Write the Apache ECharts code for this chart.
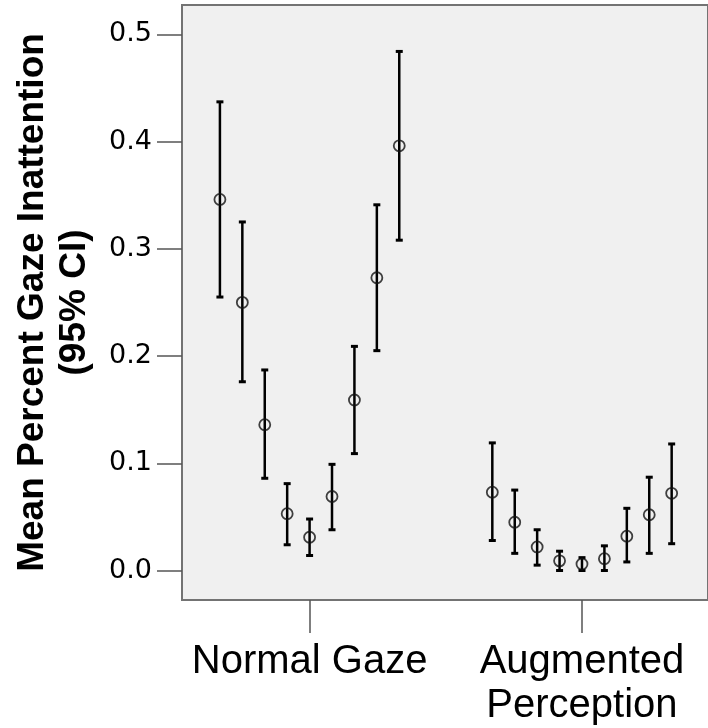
<!DOCTYPE html>
<html>
<head>
<meta charset="utf-8">
<script src="https://cdn.jsdelivr.net/npm/echarts@6/dist/echarts.min.js"></script>
<style>
html,body{margin:0;padding:0;background:#fff;}
#chart{width:708px;height:728px;}
</style>
</head>
<body>
<div id="chart"></div>
<script>
// ---- data ----
const categories = ['Normal Gaze', 'Augmented Perception'];
const tickLabels = ['Normal Gaze', 'Augmented\nPerception'];
const yTicks = [0.0, 0.1, 0.2, 0.3, 0.4, 0.5];

// nine sub-groups (left to right) within each category
const normalMean  = [0.346, 0.250, 0.136, 0.053, 0.031, 0.069, 0.159, 0.273, 0.396];
const normalLower = [0.255, 0.176, 0.086, 0.024, 0.014, 0.038, 0.109, 0.205, 0.308];
const normalUpper = [0.437, 0.325, 0.187, 0.081, 0.048, 0.099, 0.209, 0.341, 0.484];

const augMean  = [0.073, 0.045, 0.022, 0.009, 0.006, 0.011, 0.032, 0.052, 0.072];
const augLower = [0.028, 0.016, 0.005, 0.000, 0.000, 0.000, 0.008, 0.016, 0.025];
const augUpper = [0.119, 0.075, 0.038, 0.018, 0.012, 0.023, 0.058, 0.087, 0.118];

// ---- build series data (dodged positions around each category) ----
const dodge = 0.0823;
const groups = [
  {mean: normalMean, lower: normalLower, upper: normalUpper},
  {mean: augMean, lower: augLower, upper: augUpper}
];
const pointData = [];
const barData = [];
groups.forEach((g, gi) => {
  g.mean.forEach((m, i) => {
    const x = (gi + 1) + (i - 4) * dodge;
    pointData.push([x, m]);
    barData.push([x, g.lower[i], g.upper[i]]);
  });
});

const FONT = '"Liberation Sans", Arial, Helvetica, sans-serif';
const chart = echarts.init(document.getElementById('chart'), null, {renderer: 'canvas'});

chart.setOption({
  animation: false,
  backgroundColor: '#ffffff',
  grid: {
    left: 182, top: 5, right: 0, bottom: 127.5,
    show: true,
    backgroundColor: '#f0f0f0',
    borderColor: '#737373',
    borderWidth: 2
  },
  xAxis: {
    type: 'value',
    min: 0.5316,
    max: 2.4626,
    axisLine: {show: false, onZero: false},
    splitLine: {show: false},
    axisTick: {
      show: true,
      customValues: [1, 2],
      length: 33,
      lineStyle: {color: '#555', width: 1.5}
    },
    axisLabel: {
      customValues: [1, 2],
      formatter: v => tickLabels[Math.round(v) - 1],
      fontSize: 40,
      lineHeight: 44,
      color: '#000',
      fontFamily: FONT,
      margin: 40,
      align: 'center'
    }
  },
  yAxis: {
    type: 'value',
    min: -0.0275,
    max: 0.5273,
    axisLine: {show: false, onZero: false},
    splitLine: {show: false},
    axisTick: {
      show: true,
      customValues: yTicks,
      length: 25,
      lineStyle: {color: '#555', width: 1.5}
    },
    axisLabel: {
      customValues: yTicks,
      formatter: v => v.toFixed(1),
      fontSize: 27,
      color: '#000',
      fontFamily: '"DejaVu Sans", "Liberation Sans", Arial, sans-serif',
      margin: 30
    },
    name: 'Mean Percent Gaze Inattention\n(95% CI)',
    nameLocation: 'middle',
    nameGap: 86,
    nameTextStyle: {
      fontSize: 37,
      fontWeight: 'bold',
      lineHeight: 42,
      color: '#000',
      fontFamily: FONT,
      align: 'center'
    }
  },
  series: [
    {
      type: 'custom',
      data: barData,
      encode: {x: 0, y: [1, 2]},
      renderItem: function (params, api) {
        const x = api.value(0);
        const lo = api.coord([x, api.value(1)]);
        const hi = api.coord([x, api.value(2)]);
        const cw = 3.5;
        const st = {stroke: '#000', lineWidth: 2.5};
        return {
          type: 'group',
          children: [
            {type: 'line', shape: {x1: lo[0], y1: lo[1], x2: hi[0], y2: hi[1]}, style: st},
            {type: 'line', shape: {x1: hi[0] - cw, y1: hi[1], x2: hi[0] + cw, y2: hi[1]}, style: {stroke: '#000', lineWidth: 3}},
            {type: 'line', shape: {x1: lo[0] - cw, y1: lo[1], x2: lo[0] + cw, y2: lo[1]}, style: {stroke: '#000', lineWidth: 3}}
          ]
        };
      },
      z: 2
    },
    {
      type: 'scatter',
      data: pointData,
      symbol: 'circle',
      symbolSize: 11,
      itemStyle: {color: 'rgba(0,0,0,0)', borderColor: '#111', borderWidth: 1.8},
      z: 3
    }
  ]
});
</script>
</body>
</html>
